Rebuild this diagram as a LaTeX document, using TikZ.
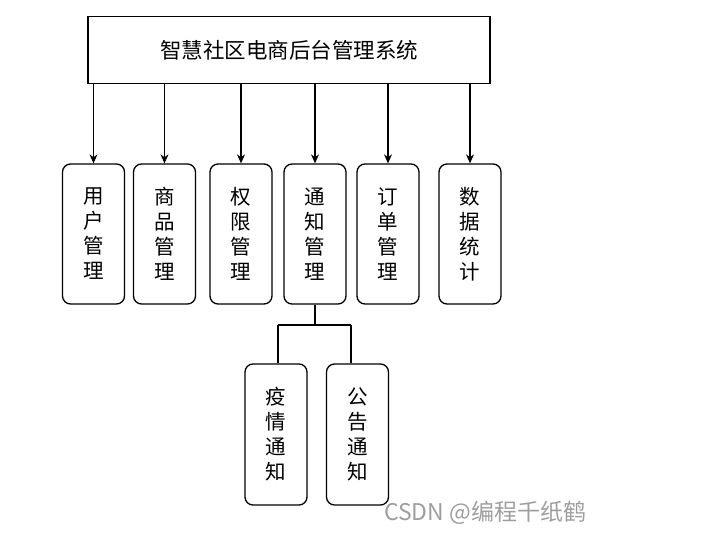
\documentclass[tikz,border=0pt]{standalone}
\usepackage{fontspec}
\setmainfont{Noto Sans CJK SC}
\usetikzlibrary{arrows.meta}
\begin{document}
\begin{tikzpicture}[x=1pt,y=-1pt,
  topbox/.style={draw, line width=1.1pt, minimum width=402pt, minimum height=67pt, inner sep=0pt,
     font=\fontsize{21.5pt}{24pt}\selectfont},
  modbox/.style={draw, line width=1.3pt, rounded corners=8pt, minimum width=62pt, minimum height=140pt,
     inner sep=0pt, align=center, font=\fontsize{20.5pt}{25pt}\selectfont},
  conn/.style={line width=1.1pt},
  arr/.style={line width=1.1pt, -{Stealth[length=9pt,width=8pt]}},
  wm/.style={text=black!38, font=\fontsize{23pt}{26pt}\selectfont, inner sep=0pt}
]
\useasboundingbox (0,0) rectangle (701,543);
\node[topbox] (top) at (289,50) {智慧社区电商后台管理系统};
\node[modbox] (b1) at (93.5,234) {用\\户\\管\\理};
\node[modbox] (b2) at (164.5,234) {商\\品\\管\\理};
\node[modbox] (b3) at (241,234) {权\\限\\管\\理};
\node[modbox] (b4) at (315,234) {通\\知\\管\\理};
\node[modbox] (b5) at (388,234) {订\\单\\管\\理};
\node[modbox] (b6) at (470,234) {数\\据\\统\\计};
\node[modbox, minimum height=141pt] (n1) at (276,434.5) {疫\\情\\通\\知};
\node[modbox, minimum height=141pt] (n2) at (357.5,434.5) {公\\告\\通\\知};
\foreach \b in {b1,b2,b3,b4,b5,b6}{
  \draw[arr] (\b.north |- top.south) -- (\b.north);
}
\coordinate (j) at (315,325);
\coordinate (ja) at (278,325);
\coordinate (jb) at (351,325);
\draw[conn] (b4.south) -- (j);
\draw[conn] (ja) -- (jb);
\draw[conn] (ja) -- (ja |- n1.north);
\draw[conn] (jb) -- (jb |- n2.north);
\node[wm, anchor=west] (wmark) at (384,513) {CSDN @编程千纸鹤};
\end{tikzpicture}
\end{document}
